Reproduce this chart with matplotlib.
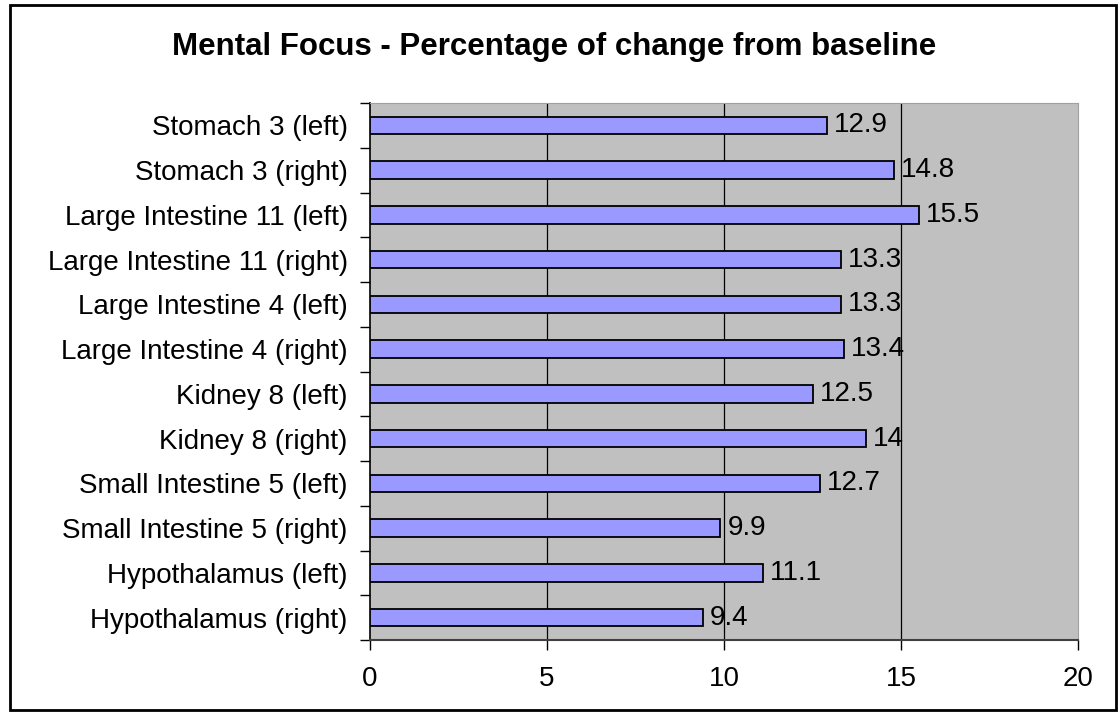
import matplotlib
matplotlib.use("Agg")
import matplotlib.pyplot as plt
from matplotlib.patches import Rectangle

plt.rcParams['font.family'] = ['Liberation Sans', 'DejaVu Sans']

categories = [
    "Stomach 3 (left)",
    "Stomach 3 (right)",
    "Large Intestine 11 (left)",
    "Large Intestine 11 (right)",
    "Large Intestine 4 (left)",
    "Large Intestine 4 (right)",
    "Kidney 8 (left)",
    "Kidney 8 (right)",
    "Small Intestine 5 (left)",
    "Small Intestine 5 (right)",
    "Hypothalamus (left)",
    "Hypothalamus (right)",
]
values = [12.9, 14.8, 15.5, 13.3, 13.3, 13.4, 12.5, 14, 12.7, 9.9, 11.1, 9.4]
value_labels = ["12.9", "14.8", "15.5", "13.3", "13.3", "13.4", "12.5", "14", "12.7", "9.9", "11.1", "9.4"]
x_ticks = [0, 5, 10, 15, 20]
title = "Mental Focus - Percentage of change from baseline"

fs = 20

fig = plt.figure(figsize=(11.19, 7.13), dpi=100)
ax = fig.add_axes([370 / 1119, 1 - 640 / 713, (1078 - 370) / 1119, (640 - 103) / 713])

n = len(categories)
ypos = list(range(n))
ax.barh(ypos, values, height=0.39, color="#9999FF", edgecolor="black", linewidth=1.3, zorder=3)
for y, v, lab in zip(ypos, values, value_labels):
    ax.annotate(lab, xy=(v, y), xytext=(5, 0), textcoords="offset points",
                va="center", ha="left", fontsize=fs, zorder=4)

ax.set_xlim(0, 20)
ax.set_ylim(n - 0.5, -0.5)
ax.set_facecolor("#C0C0C0")
ax.set_xticks(x_ticks)
ax.set_xticklabels([str(t) for t in x_ticks], fontsize=fs)
ax.tick_params(axis="x", length=7, width=1, pad=12, direction="out")

# category labels centred on bars, ticks at the boundaries between categories
ax.set_yticks(ypos)
ax.set_yticklabels(categories, fontsize=fs)
ax.tick_params(axis="y", which="major", length=0, pad=16)
ax.set_yticks([i - 0.5 for i in range(n + 1)], minor=True)
ax.tick_params(axis="y", which="minor", length=7, width=1, direction="out")

for gx in x_ticks[1:-1]:
    ax.axvline(gx, color="black", linewidth=0.9, zorder=1)

ax.spines["left"].set_color("black")
ax.spines["left"].set_linewidth(1.2)
ax.spines["bottom"].set_color("#404040")
ax.spines["bottom"].set_linewidth(1.5)
ax.spines["top"].set_color("#A0A0A0")
ax.spines["right"].set_color("#A0A0A0")

fig.text(554 / 1119, 1 - 47 / 713, title, ha="center", va="center", fontsize=22.5, fontweight="bold")

fig.patches.append(Rectangle((10 / 1119, 3 / 713), 1106 / 1119, 705 / 713, transform=fig.transFigure,
                             fill=False, edgecolor="black", linewidth=2))

fig.savefig("out.png", dpi=100)
